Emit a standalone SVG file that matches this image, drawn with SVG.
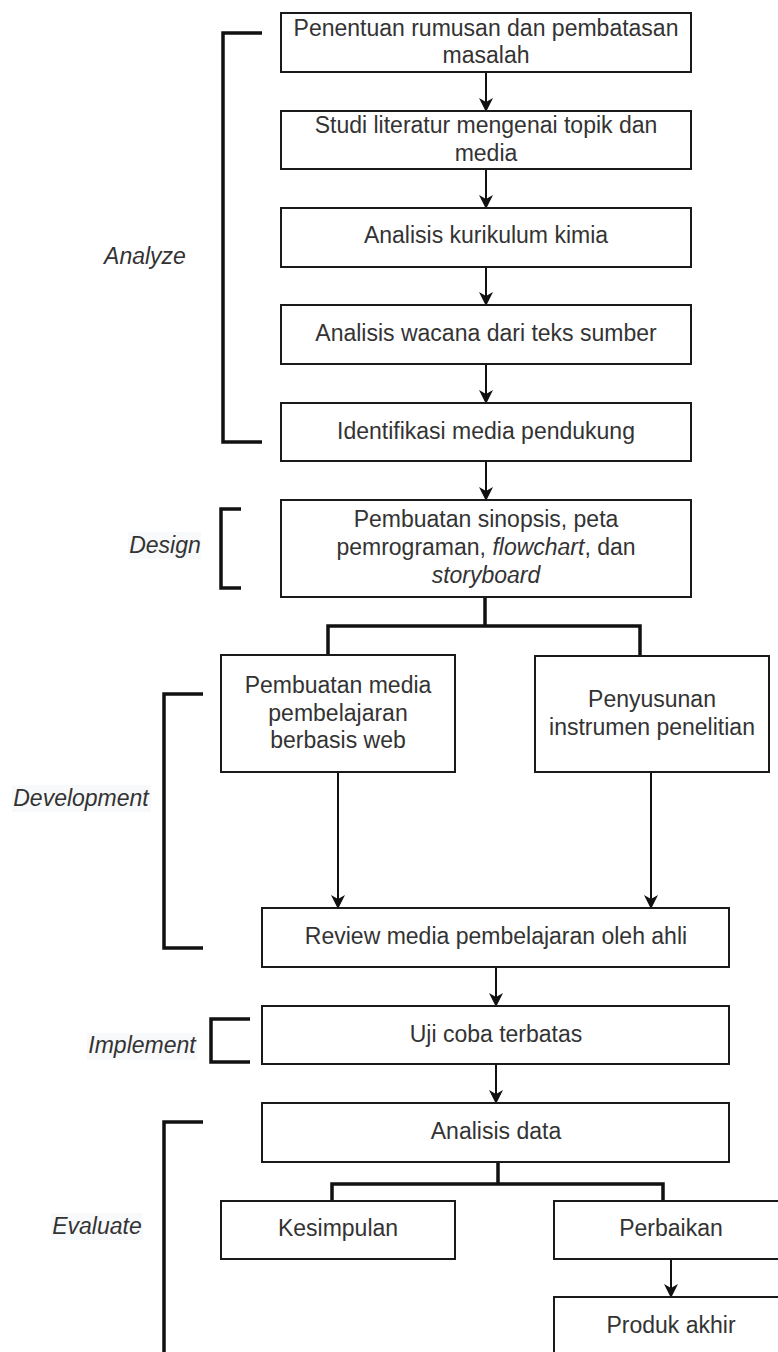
<svg xmlns="http://www.w3.org/2000/svg" width="778" height="1352" viewBox="0 0 778 1352">
  <style>
    .box { fill: #ffffff; stroke: #1a1a1a; stroke-width: 2; }
    .t { font-family: "Liberation Sans", Arial, sans-serif; font-size: 23px; fill: #333333; text-anchor: middle; }
    .lbl { font-family: "Liberation Sans", Arial, sans-serif; font-size: 23px; font-style: italic; fill: #333333; text-anchor: middle; }
    .lblbg { fill: #f8f9fa; }
    .arrow { fill: none; stroke: #111111; stroke-width: 2; marker-end: url(#ah); }
    .fork { fill: none; stroke: #111111; stroke-width: 3.5; }
    .bracket { fill: none; stroke: #111111; stroke-width: 3.5; }
    .it { font-style: italic; }
  </style>
  <defs>
    <marker id="ah" markerUnits="userSpaceOnUse" viewBox="0 0 14 14" markerWidth="14" markerHeight="14" refX="13" refY="7" orient="auto">
      <path d="M0,0 L14,7 L0,14 L4,7 Z" fill="#111111"/>
    </marker>
  </defs>

  <rect width="778" height="1352" fill="#ffffff"/>

  <g id="phase-labels">
    <g id="label-analyze">
      <text class="lbl" x="145" y="264">Analyze</text>
      <path class="bracket" d="M262,33 H223 V442 H262"/>
    </g>
    <g id="label-design">
      <rect class="lblbg" x="128" y="532" width="73" height="27"/>
      <text class="lbl" x="165" y="553">Design</text>
      <path class="bracket" d="M241,509 H221 V588 H241"/>
    </g>
    <g id="label-development">
      <rect class="lblbg" x="12" y="785" width="139" height="27"/>
      <text class="lbl" x="81" y="806">Development</text>
      <path class="bracket" d="M203,694 H164 V948 H203"/>
    </g>
    <g id="label-implement">
      <rect class="lblbg" x="87" y="1033" width="110" height="27"/>
      <text class="lbl" x="142" y="1053">Implement</text>
      <path class="bracket" d="M250,1019 H211 V1062 H250"/>
    </g>
    <g id="label-evaluate">
      <rect class="lblbg" x="51" y="1213" width="92" height="27"/>
      <text class="lbl" x="97" y="1234">Evaluate</text>
      <path class="bracket" d="M203,1122 H164 V1360"/>
    </g>
  </g>

  <g id="connectors">
    <path class="arrow" d="M486,72 V111"/>
    <path class="arrow" d="M486,169 V208"/>
    <path class="arrow" d="M486,267 V305"/>
    <path class="arrow" d="M486,364 V403"/>
    <path class="arrow" d="M486,461 V500"/>
    <path class="fork" d="M485,597 V626 M328,655 V626 H640 V655"/>
    <path class="arrow" d="M338,772 V908"/>
    <path class="arrow" d="M651,772 V908"/>
    <path class="arrow" d="M496,967 V1006"/>
    <path class="arrow" d="M496,1064 V1103"/>
    <path class="fork" d="M498,1162 V1184 M332,1201 V1184 H663 V1201"/>
    <path class="arrow" d="M671,1259 V1297"/>
  </g>

  <g id="n1">
    <rect class="box" x="281" y="13" width="410" height="59"/>
    <text class="t" x="486" y="36">Penentuan rumusan dan pembatasan</text>
    <text class="t" x="486" y="63">masalah</text>
  </g>
  <g id="n2">
    <rect class="box" x="281" y="111" width="410" height="58"/>
    <text class="t" x="486" y="133">Studi literatur mengenai topik dan</text>
    <text class="t" x="486" y="161">media</text>
  </g>
  <g id="n3">
    <rect class="box" x="281" y="208" width="410" height="59"/>
    <text class="t" x="486" y="243">Analisis kurikulum kimia</text>
  </g>
  <g id="n4">
    <rect class="box" x="281" y="305" width="410" height="59"/>
    <text class="t" x="486" y="341">Analisis wacana dari teks sumber</text>
  </g>
  <g id="n5">
    <rect class="box" x="281" y="403" width="410" height="58"/>
    <text class="t" x="486" y="439">Identifikasi media pendukung</text>
  </g>
  <g id="n6">
    <rect class="box" x="281" y="500" width="410" height="97"/>
    <text class="t" x="486" y="527">Pembuatan sinopsis, peta</text>
    <text class="t" x="486" y="555">pemrograman, <tspan class="it">flowchart</tspan>, dan</text>
    <text class="t it" x="486" y="583">storyboard</text>
  </g>
  <g id="n7">
    <rect class="box" x="221" y="655" width="234" height="117"/>
    <text class="t" x="338" y="693">Pembuatan media</text>
    <text class="t" x="338" y="721">pembelajaran</text>
    <text class="t" x="338" y="748">berbasis web</text>
  </g>
  <g id="n8">
    <rect class="box" x="535" y="656" width="234" height="116"/>
    <text class="t" x="652" y="707">Penyusunan</text>
    <text class="t" x="652" y="735">instrumen penelitian</text>
  </g>
  <g id="n9">
    <rect class="box" x="262" y="908" width="467" height="59"/>
    <text class="t" x="496" y="944">Review media pembelajaran oleh ahli</text>
  </g>
  <g id="n10">
    <rect class="box" x="262" y="1006" width="467" height="58"/>
    <text class="t" x="496" y="1042">Uji coba terbatas</text>
  </g>
  <g id="n11">
    <rect class="box" x="262" y="1103" width="467" height="59"/>
    <text class="t" x="496" y="1139">Analisis data</text>
  </g>
  <g id="n12">
    <rect class="box" x="221" y="1201" width="234" height="58"/>
    <text class="t" x="338" y="1236">Kesimpulan</text>
  </g>
  <g id="n13">
    <rect class="box" x="554" y="1201" width="234" height="58"/>
    <text class="t" x="671" y="1236">Perbaikan</text>
  </g>
  <g id="n14">
    <rect class="box" x="554" y="1297" width="234" height="70"/>
    <text class="t" x="671" y="1333">Produk akhir</text>
  </g>
</svg>
